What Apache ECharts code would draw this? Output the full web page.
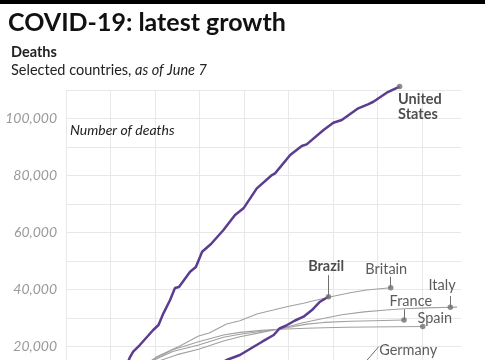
<!DOCTYPE html>
<html><head><meta charset="utf-8">
<script src="https://cdn.jsdelivr.net/npm/echarts@6/dist/echarts.min.js"></script>
<style>html,body{margin:0;padding:0;overflow:hidden;background:#fff;width:485px;height:360px}#c{width:485px;height:420px}</style>
</head><body><div id="c"></div><script>
// ---- data (x = day index, y = cumulative deaths) ----
const usDays   = [0,2,4,6,8,10,12,13.5,14.4,15.1,16.6,19.6,20.8,21.9,23.4,24.5,25.4,27.9,29.2,30.6,32.6,35.4,38.0,39.9,42.9,46.3,47.0,50.4,53.0,54.1,57.9,60.1,62.0,65.7,68.0,69.1,72.1,75.0];
const usDeaths = [250,500,1000,2000,3600,6000,9500,13000,16370,18230,20580,25840,27590,31690,36360,40560,40910,46280,47930,53290,55990,60900,66160,68510,75520,80180,80780,87190,90350,90940,95960,98520,99460,103570,105070,105880,109040,111200];

const brDays   = [0,5,10,15,20,25,28,30,32,34,36.1,39.1,42.1,44.1,46.7,48.0,49.7,51.5,53.4,55.3,57.1,59.0];
const brDeaths = [100,250,700,1700,3600,6500,8600,10200,12000,13700,15320,17070,19880,21740,24090,26370,27590,29170,30500,32850,35760,37510];

const gbDays   = [0,3,6,9,12,15,18,20.4,25.6,29.8,32.2,36.1,39.1,42.9,46.6,49.6,53.4,56.4,59.0,63.9,67.6,73.0];
const gbDeaths = [300,800,2000,4000,7000,10500,13800,16480,20230,23740,24790,27940,29100,31450,32850,34010,35200,36360,37300,38920,39860,40670];

const esDays   = [0,3,6,9,12,15,17,19.5,24.0,29.8,35.4,39.1,44.0,48.1,54.1,58.0,63.0,68.0,74.0,80.2];
const esDeaths = [600,1800,3500,5600,8200,11000,13000,15300,18900,21700,24100,25000,25700,26100,26440,26650,26800,26900,27000,27050];

const frDays   = [0,3,6,9,12,15,17.5,19.8,24.0,29.8,35.4,39.1,44.0,48.1,54.1,58.0,64.0,69.1,76.0];
const frDeaths = [150,600,1700,3400,6000,9500,12800,15320,18300,20580,23280,24330,25400,26200,27900,28500,28900,29100,29350];

const itDays   = [0,4,8,12,15,18,21.5,25,29.8,35.4,39.1,44,48.1,53,57.8,62,67,72,76,81,86.4,87.9];
const itDeaths = [1000,2500,4800,8200,10800,12900,15300,17200,19100,22000,23500,25000,26300,28300,29900,31200,32200,32850,33300,33600,33800,33850];

const deDays   = [0,10,20,30,40,50,60,64];
const deDeaths = [20,400,2500,4600,6300,7500,8300,8700];

// annotated points
const endNames  = ['United\nStates','Brazil','Britain','Italy','France','Spain','Germany'];
const endDays   = [75.0, 59.0, 73.0, 86.4, 76.0, 80.2, 64];
const endDeaths = [111200, 37510, 40670, 33800, 29350, 27050, 8700];
// leader line tops (deaths level where each leader meets its label)
const leaderTop = {'Brazil':45090,'Britain':44530,'Italy':37760,'France':33100};
const germanyLabelPoint = [70.3, 19980];

const yTicks = [0,20000,40000,60000,80000,100000];

// ---- styles ----
const FONT = 'Lato';
const gray = '#a0a0a0';
const purple = '#5b3d90';
const labelStyle = {
  'United\nStates': {offset:[-1.6,20], align:'left', fontWeight:'bold', color:'#222'},
  'Brazil':  {offset:[-2.3,-30], align:'center', fontWeight:'bold', color:'#222'},
  'Britain': {offset:[-4.5,-18.4], align:'center', fontWeight:'normal', color:'#333'},
  'Italy':   {offset:[-8.3,-21.6], align:'center', fontWeight:'normal', color:'#333'},
  'France':  {offset:[6.8,-19], align:'center', fontWeight:'normal', color:'#333'},
  'Spain':   {offset:[12.1,-8.4], align:'center', fontWeight:'normal', color:'#333'},
  'Germany': {offset:[28.5,-28.9], align:'left', fontWeight:'normal', color:'#333'}
};

function zip(a,b){return a.map((d,i)=>[d,b[i]]);}
function fmt(v){return String(v).replace(/\B(?=(\d{3})+(?!\d))/g, ',');}

function lineSeries(name, days, deaths, color, width, z){
  return {type:'line', name, data: zip(days,deaths), symbol:'none', showSymbol:false, clip:false,
    lineStyle:{color, width}, itemStyle:{color}, z, silent:true};
}

const scatterData = endNames.map((n,i)=>{
  const s = labelStyle[n];
  return {value:[endDays[i], endDeaths[i]], name:n,
    label:{show:true, formatter:n, position:'inside', offset:s.offset, align:s.align,
      verticalAlign:'middle', fontFamily:FONT, fontSize:14.5, lineHeight:15,
      fontWeight:s.fontWeight, color:s.color}};
});

const markData = [];
endNames.forEach((n,i)=>{
  if (leaderTop[n] !== undefined) {
    markData.push([{coord:[endDays[i], endDeaths[i]]},{coord:[endDays[i], leaderTop[n]]}]);
  }
});
const gi = endNames.indexOf('Germany');
markData.push([{coord:[endDays[gi], endDeaths[gi]], lineStyle:{curveness:0.4}},{coord:germanyLabelPoint}]);

const chart = echarts.init(document.getElementById('c'), null, {renderer:'canvas'});
chart.setOption({
  animation:false,
  textStyle:{fontFamily:FONT},
  graphic:[{type:'rect', shape:{x:0,y:0,width:485,height:4}, style:{fill:'#000'}}],
  title:[
    {text:'COVID-19: latest growth', left:8, top:10, padding:0,
      textStyle:{fontFamily:FONT, fontSize:25, fontWeight:'bold', color:'#111'}},
    {text:'Deaths', left:11, top:45, padding:0,
      textStyle:{fontFamily:FONT, fontSize:14.5, fontWeight:'bold', color:'#222'}},
    {text:'{a|Selected countries, }{b|as of June 7}', left:11, top:63, padding:0,
      textStyle:{fontWeight:'normal', rich:{a:{fontFamily:FONT, fontSize:14.5, fontWeight:'normal', color:'#222'},
                       b:{fontFamily:FONT, fontSize:14.5, fontWeight:'normal', fontStyle:'italic', color:'#222'}}}},
    {text:'Number of deaths', left:70, top:123, padding:0,
      textStyle:{fontFamily:FONT, fontSize:14, fontStyle:'italic', fontWeight:'normal', color:'#222'}}
  ],
  grid:{left:66, right:24, top:90, bottom:16.3, containLabel:false},
  xAxis:{type:'value', min:0, max:88.8, interval:10,
    axisLine:{show:false}, axisTick:{show:false}, axisLabel:{show:false},
    splitLine:{show:true, showMinLine:true, showMaxLine:false, lineStyle:{color:'#e8e8e8', width:1}}},
  yAxis:{type:'value', min:0, max:110000, interval:10000,
    axisLine:{show:false}, axisTick:{show:false},
    axisLabel:{margin:9, color:'#9a9a9a', fontStyle:'italic', fontFamily:FONT, fontSize:14,
      padding:[13,0,0,0],
      formatter:v=> yTicks.indexOf(v)>=0 ? fmt(v) : ''},
    splitLine:{show:true, lineStyle:{color:'#e8e8e8', width:1}}},
  series:[
    lineSeries('Germany', deDays, deDeaths, gray, 1.1, 2),
    lineSeries('Spain', esDays, esDeaths, gray, 1.1, 2),
    lineSeries('France', frDays, frDeaths, gray, 1.1, 2),
    lineSeries('Italy', itDays, itDeaths, gray, 1.1, 2),
    lineSeries('Britain', gbDays, gbDeaths, gray, 1.1, 2),
    lineSeries('Brazil', brDays, brDeaths, purple, 2.5, 3),
    lineSeries('United States', usDays, usDeaths, purple, 2.5, 3),
    {type:'scatter', data:scatterData, symbol:'circle', symbolSize:5.5, z:5, silent:true, clip:false,
      itemStyle:{color:'#707070'},
      markLine:{silent:true, symbol:['none','none'], animation:false, label:{show:false},
        lineStyle:{color:'#707070', width:1, type:'solid'}, data:markData}}
  ]
});
</script></body></html>
